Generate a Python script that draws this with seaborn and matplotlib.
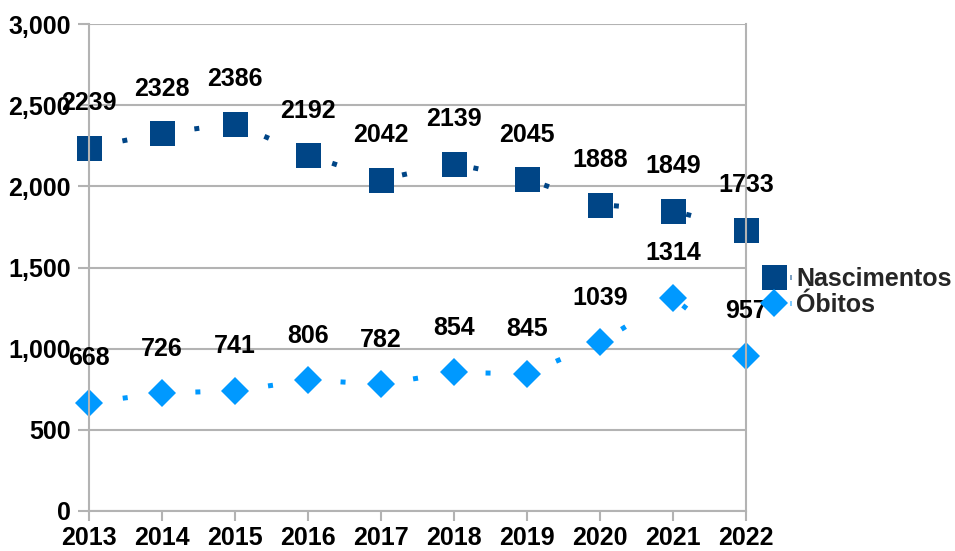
import matplotlib
matplotlib.use('Agg')
import matplotlib.pyplot as plt
import matplotlib.ticker as ticker
import seaborn as sns

# данные
anos = [2013, 2014, 2015, 2016, 2017, 2018, 2019, 2020, 2021, 2022]
nascimentos = [2239, 2328, 2386, 2192, 2042, 2139, 2045, 1888, 1849, 1733]
obitos = [668, 726, 741, 806, 782, 854, 845, 1039, 1314, 957]

sns.set_style('white')
plt.rcParams['font.family'] = ['Liberation Sans', 'DejaVu Sans']
plt.rcParams['font.weight'] = 'bold'

cinza = '#b3b3b3'
cor_nasc = '#004586'
cor_obit = '#0099ff'
fs = 18

fig = plt.figure(figsize=(9.55, 5.51), dpi=100)
ax = fig.add_axes([89 / 955, 1 - 511 / 551, (746 - 89) / 955, (511 - 24) / 551])

sns.lineplot(x=anos, y=nascimentos, ax=ax, color=cor_nasc, marker='s', markersize=18,
             markeredgewidth=0, linewidth=3.6, label='Nascimentos', clip_on=False)
sns.lineplot(x=anos, y=obitos, ax=ax, color=cor_obit, marker='D', markersize=14,
             markeredgewidth=0, linewidth=3.6, label='Óbitos', clip_on=False)

# пунктир: одна точка посередине между маркерами
for ln in ax.lines:
    ln.set_linestyle((7.8, (1.0, 13.6)))
    ln.set_dash_capstyle('butt')

# подписи значений
for serie in [nascimentos, obitos]:
    for x, v in zip(anos, serie):
        ax.annotate(str(v), (x, v), xytext=(0, 32), textcoords='offset points',
                    ha='center', va='center', fontsize=fs, fontweight='bold', color='black')

ax.set_xlim(2013, 2022)
ax.set_ylim(0, 3000)
ax.set_xticks(anos)
ax.set_yticks([0, 500, 1000, 1500, 2000, 2500, 3000])
ax.yaxis.set_major_formatter(ticker.FuncFormatter(lambda v, pos: '{:,.0f}'.format(v)))

ax.grid(axis='y', color=cinza, linewidth=1.5)
ax.grid(axis='x', visible=False)
for lado in ['left', 'right', 'bottom']:
    ax.spines[lado].set_color(cinza)
    ax.spines[lado].set_linewidth(1.5)
ax.spines['top'].set_visible(False)

ax.tick_params(axis='both', colors=cinza, width=1.5, labelcolor='black', labelsize=fs)
ax.tick_params(axis='y', direction='out', length=8, pad=5, left=True)
ax.tick_params(axis='x', direction='out', length=7, pad=4, bottom=True)
for lab in ax.get_xticklabels() + ax.get_yticklabels():
    lab.set_fontweight('bold')

leg = ax.legend(loc='center left', bbox_to_anchor=(0.993, 0.45), frameon=False,
                fontsize=fs, handlelength=1.4, handletextpad=0.2, labelspacing=0.1,
                borderaxespad=0.2)
for t in leg.get_texts():
    t.set_fontweight('bold')

plt.savefig('out.png', dpi=100)
